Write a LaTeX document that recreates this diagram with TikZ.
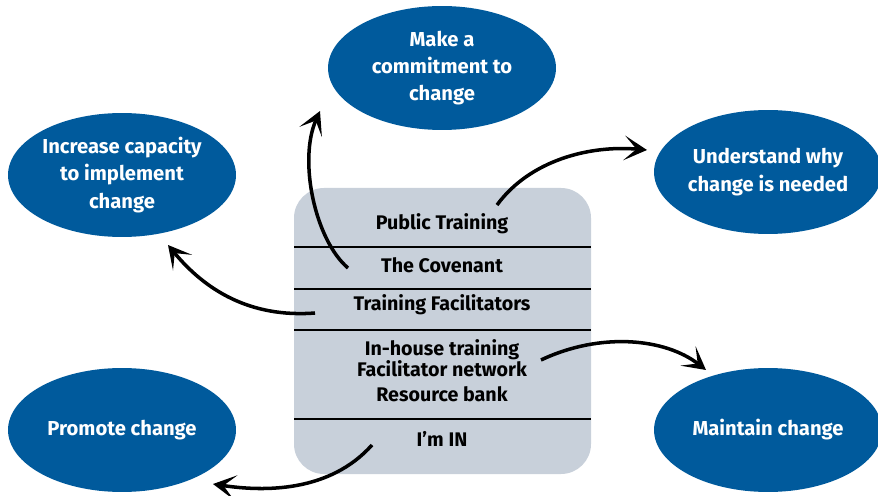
\documentclass[tikz,border=0pt]{standalone}
\usepackage{fontspec}
\setmainfont{Fira Sans}
\usetikzlibrary{arrows.meta,shapes.geometric}
\definecolor{goalblue}{RGB}{0,90,156}
\definecolor{boxgrey}{RGB}{200,208,218}
\tikzset{
	goal/.style={ellipse, fill=goalblue, text=white, align=center, inner sep=0pt,
		minimum width=4.56cm, minimum height=2.48cm, font=\fontsize{11.5}{15.5}\selectfont\bfseries},
	row/.style={align=center, font=\fontsize{11.2}{12}\selectfont\bfseries},
	curvearrow/.style={line width=2pt, -{Stealth[length=13pt,width=14pt,inset=7pt]}},
	rule/.style={line width=0.8pt}
}
\begin{document}
\begin{tikzpicture}[x=0.02cm, y=-0.02cm]
			%%%%% START %%%%%
			\useasboundingbox (0,0) rectangle (878,496);
			
			\fill[boxgrey, rounded corners=0.6cm] (294,188) rectangle (591,474);
			\draw[rule] (294,247) -- (591,247);
			\draw[rule] (294,289) -- (591,289);
			\draw[rule] (294,330) -- (591,330);
			\draw[rule] (294,419) -- (591,419);
			
			\node[row] (pub) at (442,224) {Public Training};
			\node[row] (cov) at (442,265) {The Covenant};
			\node[row] (fac) at (442,305) {Training Facilitators};
			\node[row] (inh) at (442,358) {In-house training\\Facilitator network};
			\node[row] (res) at (442,394) {Resource bank};
			\node[row] (imin) at (442,439) {I’m IN};
			
			\node[goal] (commit) at (442,68) {Make a\\commitment to\\change};
			\node[goal] (capac) at (122,175) {Increase capacity\\to implement\\change};
			\node[goal] (why) at (768,172) {Understand why\\change is needed};
			\node[goal] (keep) at (768,430) {Maintain change};
			\node[goal] (promo) at (122,430) {Promote change};
			
			% arrow ends
			\coordinate (s1) at (348,268); \coordinate (e1) at (320,111);
			\coordinate (s2) at (497,205); \coordinate (e2) at (647,150);
			\coordinate (s3) at (315,313); \coordinate (e3) at (168,245);
			\coordinate (s4) at (541,360); \coordinate (e4) at (706,370);
			\coordinate (s5) at (372,445); \coordinate (e5) at (213,484);
			
			\draw[curvearrow] (s1) .. controls (315,240) and (298,160) .. (e1);
			\draw[curvearrow] (s2) .. controls (530,160) and (590,145) .. (e2);
			\draw[curvearrow] (s3) .. controls (250,318) and (205,290) .. (e3);
			\draw[curvearrow] (s4) .. controls (600,332) and (665,338) .. (e4);
			\draw[curvearrow] (s5) .. controls (330,492) and (265,492) .. (e5);
			
			%%%%% END %%%%%
		\end{tikzpicture}
\end{document}
